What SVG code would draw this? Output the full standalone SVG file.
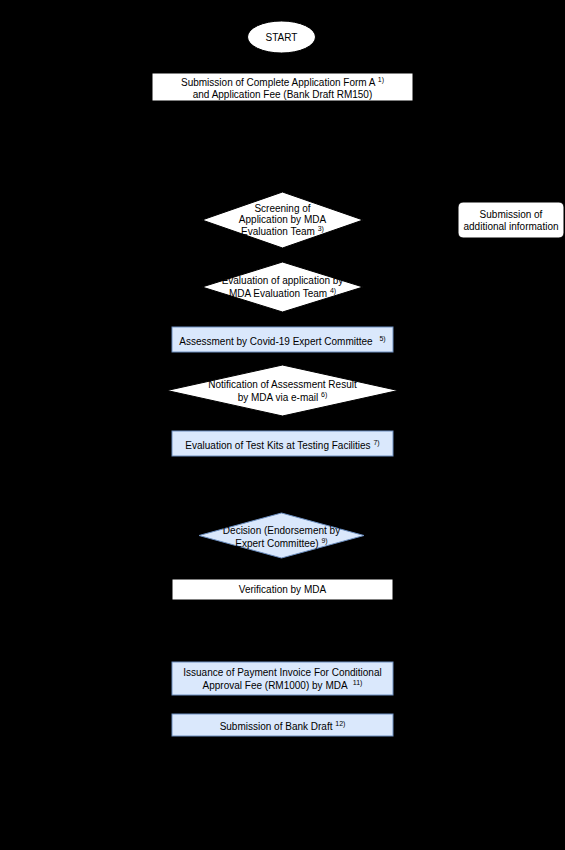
<svg xmlns="http://www.w3.org/2000/svg" width="565" height="850" viewBox="0 0 565 850">
<style>
text{font-family:"Liberation Sans",Arial,sans-serif;font-size:10px;fill:#000;text-anchor:middle}
.sup{font-size:7px}
.w{fill:#fff;stroke:#000;stroke-width:1}
.b{fill:#dae8fc;stroke:#6c8ebf;stroke-width:1}
.c{fill:none;stroke:#000;stroke-width:1}
</style>
<defs><marker id="ah" markerWidth="8" markerHeight="8" refX="7" refY="4" orient="auto"><path d="M0,0L8,4L0,8z" fill="#000"/></marker></defs>
<rect width="565" height="850" fill="#000"/>
<g id="connectors">
<line class="c" x1="282" y1="53" x2="282" y2="72" marker-end="url(#ah)"/>
<line class="c" x1="282" y1="101" x2="282" y2="191" marker-end="url(#ah)"/>
<line class="c" x1="282" y1="248" x2="282" y2="261" marker-end="url(#ah)"/>
<line class="c" x1="282" y1="312" x2="282" y2="326" marker-end="url(#ah)"/>
<line class="c" x1="282" y1="352" x2="282" y2="364" marker-end="url(#ah)"/>
<line class="c" x1="282" y1="416" x2="282" y2="430" marker-end="url(#ah)"/>
<line class="c" x1="282" y1="456" x2="282" y2="512" marker-end="url(#ah)"/>
<line class="c" x1="282" y1="558" x2="282" y2="578" marker-end="url(#ah)"/>
<line class="c" x1="282" y1="600" x2="282" y2="661" marker-end="url(#ah)"/>
<line class="c" x1="282" y1="695" x2="282" y2="713" marker-end="url(#ah)"/>
</g>
<g id="start">
<ellipse class="w" cx="281.5" cy="37" rx="34" ry="16"/>
<text x="281.5" y="40.5">START</text>
</g>
<g id="submission">
<rect class="w" x="152" y="73" width="261" height="28"/>
<text x="282.5" y="85.5">Submission of Complete Application Form A <tspan class="sup" dy="-4">1)</tspan></text>
<text x="282.5" y="97.5">and Application Fee (Bank Draft RM150)</text>
</g>
<g id="screening">
<polygon class="w" points="282.5,192 363,220 282.5,248 202,220"/>
<text x="282.5" y="211.5">Screening of</text>
<text x="282.5" y="223">Application by MDA</text>
<text x="282.5" y="235">Evaluation Team <tspan class="sup" dy="-4">3)</tspan></text>
</g>
<g id="additional">
<rect class="w" x="458" y="202" width="106" height="36" rx="5"/>
<text x="511" y="218">Submission of</text>
<text x="511" y="229.5">additional information</text>
</g>
<g id="evaluation">
<polygon class="w" points="282.5,262 363,287 282.5,312 202,287"/>
<text x="282.5" y="283.5">Evaluation of application by</text>
<text x="282.5" y="297">MDA Evaluation Team <tspan class="sup" dy="-4">4)</tspan></text>
</g>
<g id="assessment">
<rect class="b" x="172" y="327" width="221" height="25"/>
<text x="282.5" y="344.5">Assessment by Covid-19 Expert Committee <tspan class="sup" dx="4" dy="-4">5)</tspan></text>
</g>
<g id="notification">
<polygon class="w" points="282.5,365 398,390.5 282.5,416 167,390.5"/>
<text x="282.5" y="387.5">Notification of Assessment Result</text>
<text x="282.5" y="400.5">by MDA via e-mail <tspan class="sup" dy="-4">6)</tspan></text>
</g>
<g id="testkits">
<rect class="b" x="172" y="431" width="221" height="25"/>
<text x="282.5" y="448.5">Evaluation of Test Kits at Testing Facilities <tspan class="sup" dy="-4">7)</tspan></text>
</g>
<g id="decision">
<polygon class="b" points="281.5,513 364,535.5 281.5,558 199,535.5" stroke="none"/>
<text x="281.5" y="533.5">Decision (Endorsement by</text>
<text x="281.5" y="546.5">Expert Committee) <tspan class="sup" dy="-4">9)</tspan></text>
</g>
<g id="verification">
<rect class="w" x="172" y="579" width="221" height="21"/>
<text x="282.5" y="592.5">Verification by MDA</text>
</g>
<g id="invoice">
<rect class="b" x="172" y="662" width="221" height="33"/>
<text x="282.5" y="675.5">Issuance of Payment Invoice For Conditional</text>
<text x="282.5" y="688.5">Approval Fee (RM1000) by MDA <tspan class="sup" dx="3" dy="-4">11)</tspan></text>
</g>
<g id="bankdraft">
<rect class="b" x="172" y="714" width="221" height="22"/>
<text x="282.5" y="729.5">Submission of Bank Draft <tspan class="sup" dy="-4">12)</tspan></text>
</g>
</svg>
